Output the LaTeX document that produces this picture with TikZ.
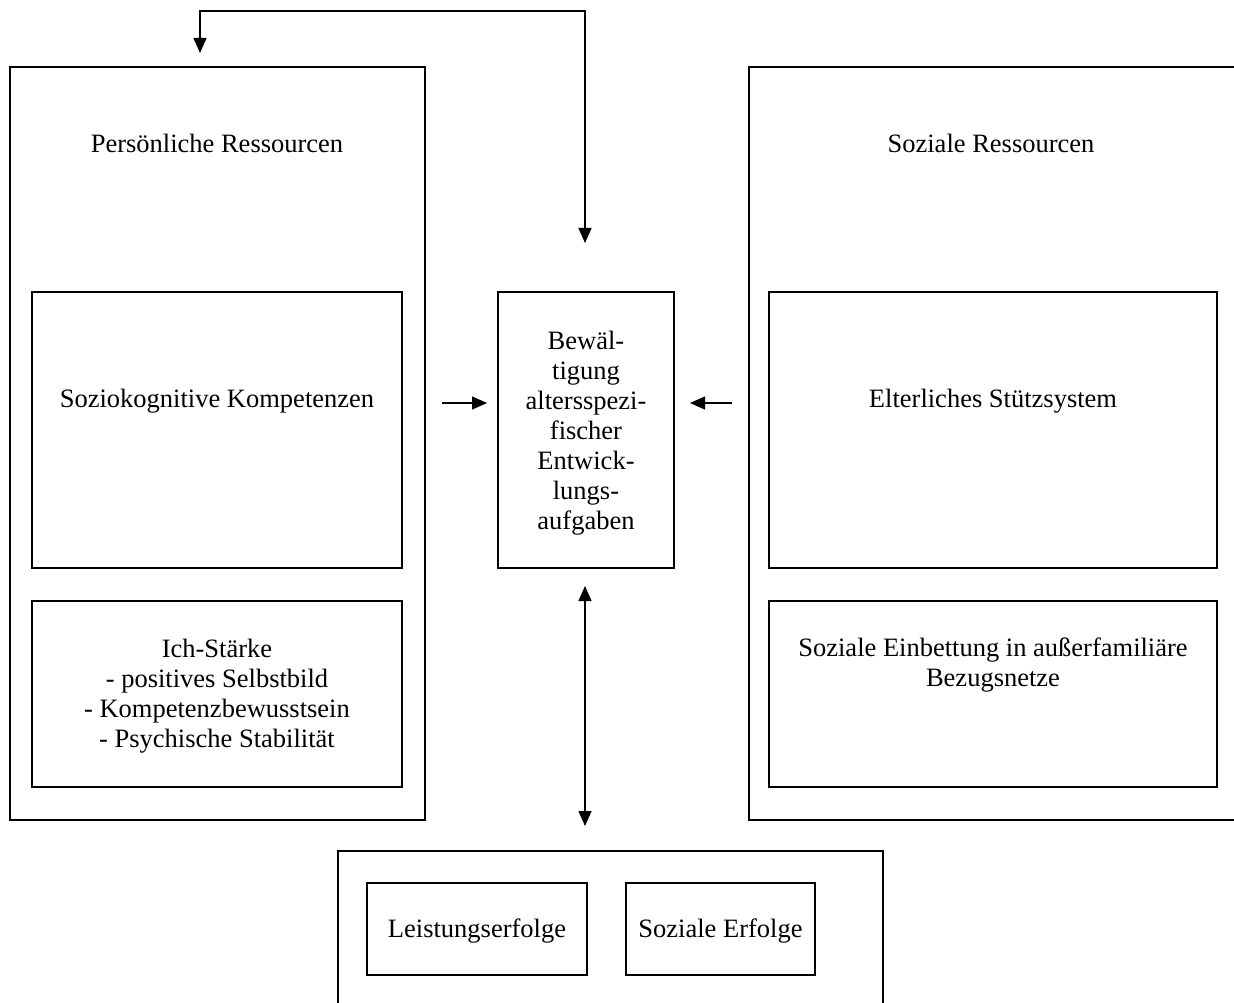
\documentclass[tikz,border=0pt]{standalone}
\usepackage{fontspec}
\setmainfont{Liberation Serif}
\usetikzlibrary{arrows.meta}
\begin{document}
\begin{tikzpicture}[x=1pt,y=-1pt,
  box/.style={draw, line width=1.7pt, inner sep=0pt, rectangle},
  txt/.style={font=\fontsize{26.5}{30}\selectfont, align=center, inner sep=0pt},
  conn/.style={line width=1.4pt, -{Triangle[length=15pt,width=13pt]}},
  dconn/.style={line width=1.4pt, {Triangle[length=15pt,width=13pt]}-{Triangle[length=15pt,width=13pt]}}]
\useasboundingbox (0,0) rectangle (1234,1003);
\clip (0,0) rectangle (1234,1003);
% outer boxes
\node[box, minimum width=415pt, minimum height=753pt] (pers) at (217.5,443.5) {};
\node[box, minimum width=500pt, minimum height=753pt] (soz) at (999,443.5) {};
\node[box, minimum width=545pt, minimum height=170pt] (erf) at (610.5,936) {};
% titles
\node[txt] (perst) at (217,143) {Persönliche Ressourcen};
\node[txt] (sozt) at (991,143) {Soziale Ressourcen};
% inner boxes left
\node[box, minimum width=370pt, minimum height=276pt] (kog) at (217,430) {};
\node[txt] (kogt) at (217,401) {Soziokognitive Kompetenzen};
\node[box, minimum width=370pt, minimum height=186pt] (ich) at (217,694) {};
\node[txt, anchor=north] (icht) at (217,639) {Ich-Stärke\\- positives Selbstbild\\- Kompetenzbewusstsein\\- Psychische Stabilität};
% inner boxes right
\node[box, minimum width=448pt, minimum height=276pt] (elt) at (993,430) {};
\node[txt] (eltt) at (993,401) {Elterliches Stützsystem};
\node[box, minimum width=448pt, minimum height=186pt] (einb) at (993,694) {};
\node[txt, anchor=north] (einbt) at (993,638) {Soziale Einbettung in außerfamiliäre\\Bezugsnetze};
% central
\node[box, minimum width=176pt, minimum height=276pt] (bew) at (586,430) {};
\node[txt] (bewt) at (586,433) {Bewäl-\\tigung\\altersspezi-\\fischer\\Entwick-\\lungs-\\aufgaben};
% bottom inner
\node[box, minimum width=220pt, minimum height=92pt] (leist) at (477,929) {};
\node[txt] (leistt) at (477,931) {Leistungserfolge};
\node[box, minimum width=189pt, minimum height=92pt] (serf) at (720.5,929) {};
\node[txt] (serft) at (720.5,931) {Soziale Erfolge};
% connectors
\coordinate (topa) at (585,243);
\coordinate (topb) at (200,53);
\draw[dconn] (topa) -- (585,11) -| (topb);
\coordinate (la) at (442,403);
\coordinate (lb) at (487,403);
\draw[conn] (la) -- (lb);
\coordinate (ra) at (732,403);
\coordinate (rb) at (690,403);
\draw[conn] (ra) -- (rb);
\coordinate (va) at (585,586);
\coordinate (vb) at (585,826);
\draw[dconn] (va) -- (vb);
\end{tikzpicture}
\end{document}
